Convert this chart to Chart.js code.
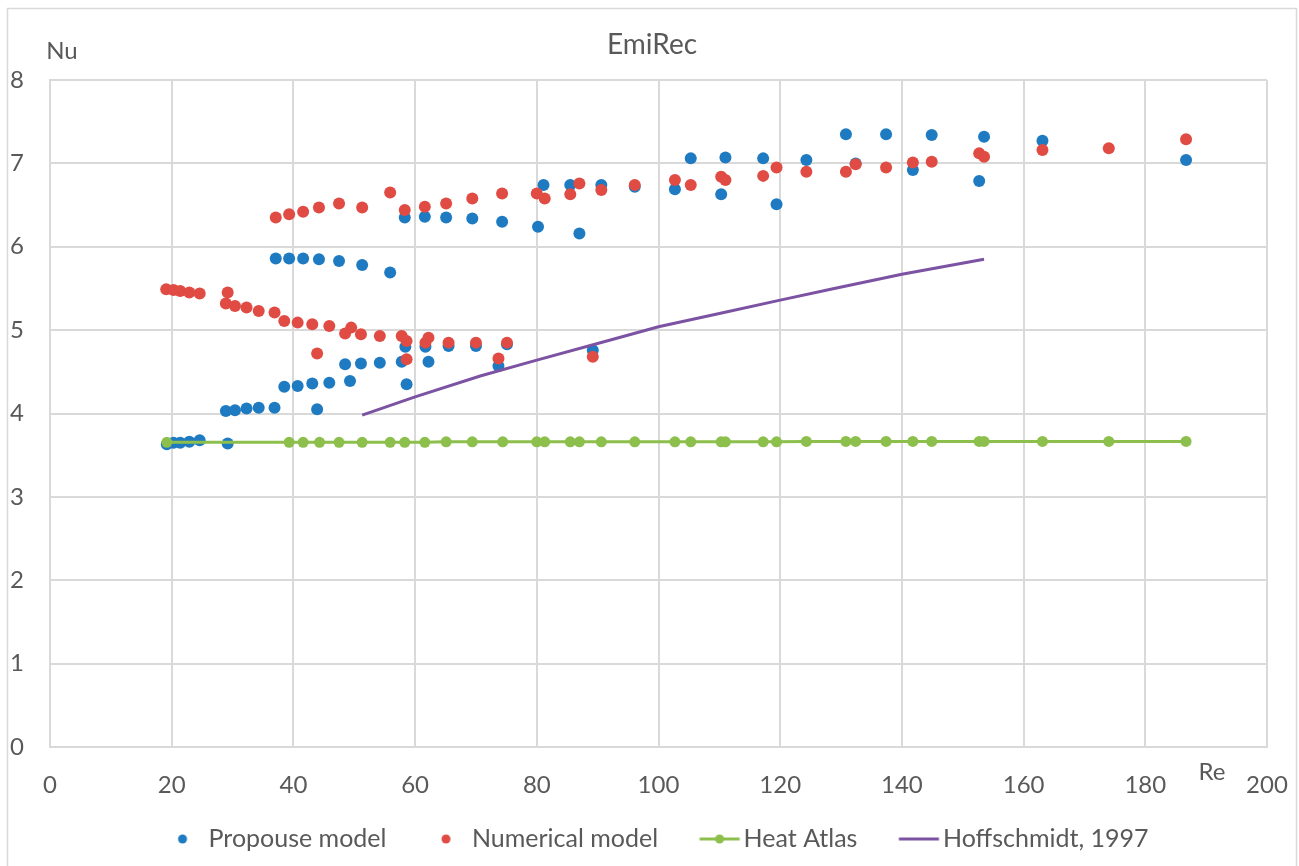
<!DOCTYPE html>
<html>
<head>
<meta charset="utf-8">
<script src="https://cdn.jsdelivr.net/npm/chart.js@4/dist/chart.umd.min.js"></script>
<style>
  html, body { margin: 0; padding: 0; background: #fff; }
  #wrap { width: 1299px; height: 866px; }
</style>
</head>
<body>
<div id="wrap"><canvas id="nuChart"></canvas></div>
<script>
// Propouse model
var propRe = [19.2, 20.3, 21.4, 22.9, 24.6, 29.2,
  28.9, 30.4, 32.3, 34.3, 36.9, 43.9,
  38.5, 40.7, 43.1, 45.9, 49.3, 58.6,
  48.5, 51.1, 54.2, 57.8, 62.2,
  58.4, 61.7, 65.5, 70.0, 75.1, 73.7, 89.2,
  37.1, 39.3, 41.6, 44.2, 47.5, 51.3, 55.9,
  58.3, 61.6, 65.1, 69.4, 74.3, 80.2, 87.0,
  81.1, 85.5, 90.6, 96.1, 102.7, 110.3, 119.4,
  105.3, 111.0, 117.2, 124.3,
  130.8, 137.4, 144.9, 153.5, 163.1, 186.7,
  132.4, 141.8, 152.7];
var propNu = [3.63, 3.65, 3.65, 3.66, 3.68, 3.64,
  4.03, 4.04, 4.06, 4.07, 4.07, 4.05,
  4.32, 4.33, 4.36, 4.37, 4.39, 4.35,
  4.59, 4.60, 4.61, 4.62, 4.62,
  4.80, 4.80, 4.81, 4.81, 4.83, 4.57, 4.76,
  5.86, 5.86, 5.86, 5.85, 5.83, 5.78, 5.69,
  6.35, 6.36, 6.35, 6.34, 6.30, 6.24, 6.16,
  6.74, 6.74, 6.74, 6.72, 6.69, 6.63, 6.51,
  7.06, 7.07, 7.06, 7.04,
  7.35, 7.35, 7.34, 7.32, 7.27, 7.04,
  7.00, 6.92, 6.79];

// Numerical model
var numRe = [19.1, 20.3, 21.4, 22.9, 24.6, 29.2,
  28.9, 30.4, 32.3, 34.3, 36.9,
  38.5, 40.7, 43.1, 45.9, 48.5, 49.5,
  51.1, 54.2, 57.8, 58.6, 61.7, 62.2, 65.5, 70.0, 75.1,
  43.9, 58.6, 73.7, 89.2,
  37.1, 39.3, 41.6, 44.2, 47.5, 51.3, 55.9,
  58.3, 61.6, 65.1, 69.4, 74.3, 80.0, 81.3,
  85.5, 87.0, 90.6, 96.1, 102.7, 105.3, 110.3, 111.0,
  117.2, 119.4, 124.3, 130.8, 132.4, 137.4, 141.8, 144.9,
  152.7, 153.5, 163.1, 174.0, 186.7];
var numNu = [5.49, 5.48, 5.47, 5.45, 5.44, 5.45,
  5.32, 5.29, 5.27, 5.23, 5.21,
  5.11, 5.09, 5.07, 5.05, 4.96, 5.03,
  4.95, 4.93, 4.93, 4.87, 4.85, 4.91, 4.85, 4.85, 4.85,
  4.72, 4.65, 4.66, 4.68,
  6.35, 6.39, 6.42, 6.47, 6.52, 6.47, 6.65,
  6.44, 6.48, 6.52, 6.58, 6.64, 6.64, 6.58,
  6.63, 6.76, 6.68, 6.74, 6.80, 6.74, 6.84, 6.80,
  6.85, 6.95, 6.90, 6.90, 6.99, 6.95, 7.01, 7.02,
  7.12, 7.08, 7.16, 7.18, 7.29];

// Heat Atlas
var atlasRe = [19.2, 39.3, 41.6, 44.3, 47.5, 51.3, 55.9, 58.3, 61.6, 65.1, 69.4, 74.4,
  80.0, 81.3, 85.5, 87.0, 90.6, 96.1, 102.7, 105.3, 110.3, 111.0, 117.2, 119.4,
  124.3, 130.8, 132.4, 137.4, 141.8, 144.9, 152.7, 153.5, 163.1, 174.0, 186.7];
var atlasNu = [3.655, 3.655, 3.655, 3.655, 3.655, 3.655, 3.655, 3.655, 3.655, 3.66, 3.66, 3.66,
  3.66, 3.66, 3.66, 3.66, 3.66, 3.66, 3.66, 3.66, 3.66, 3.66, 3.66, 3.66,
  3.665, 3.665, 3.665, 3.665, 3.665, 3.665, 3.665, 3.665, 3.665, 3.665, 3.665];

// Hoffschmidt, 1997
var hoffRe = [51.3, 60, 70.7, 80, 90, 100, 110, 120, 128.3, 140, 153.5];
var hoffNu = [3.98, 4.20, 4.45, 4.64, 4.84, 5.04, 5.20, 5.36, 5.49, 5.67, 5.85];

var xTicks = [0, 20, 40, 60, 80, 100, 120, 140, 160, 180, 200];
var yTicks = [0, 1, 2, 3, 4, 5, 6, 7, 8];

var seriesNames = ['Propouse model', 'Numerical model', 'Heat Atlas', 'Hoffschmidt, 1997'];
var seriesColors = ['#1f7bc1', '#e04b44', '#8cbf4b', '#7c52a3'];

var FONT = 'Lato';
var TXT = '#595959';
var GRID = '#d9d9d9';

function pts(xs, ys) {
  return xs.map(function (x, i) { return { x: x, y: ys[i] }; });
}

// small legend icons (dot / line / line with dot), offset inside the legend box
function legendIcon(kind, color) {
  var c = document.createElement('canvas');
  c.width = 80; c.height = 20;
  var g = c.getContext('2d');
  g.fillStyle = color;
  g.strokeStyle = color;
  if (kind === 'dot') {
    g.beginPath(); g.arc(49.25, 10, 4.5, 0, Math.PI * 2); g.fill();
  } else {
    g.lineWidth = 3;
    g.beginPath(); g.moveTo(31.25, 10); g.lineTo(71.25, 10); g.stroke();
    if (kind === 'linedot') {
      g.beginPath(); g.arc(51.25, 10, 4.5, 0, Math.PI * 2); g.fill();
    }
  }
  return c;
}
var icons = [legendIcon('dot', seriesColors[0]), legendIcon('dot', seriesColors[1]),
  legendIcon('linedot', seriesColors[2]), legendIcon('line', seriesColors[3])];

var extras = {
  id: 'extras',
  afterLayout: function (chart) {
    // shift legend row to where Excel put it
    chart.legend.left += 12;
    chart.legend.right += 12;
  },
  afterDraw: function (chart) {
    var ctx = chart.ctx;
    ctx.save();
    ctx.strokeStyle = GRID;
    ctx.lineWidth = 1.5;
    ctx.strokeRect(7.5, 8.5, 1289, 880);
    ctx.fillStyle = TXT;
    ctx.textAlign = 'center';
    ctx.textBaseline = 'middle';
    ctx.font = '28px ' + FONT;
    ctx.fillText('EmiRec', 652, 45);
    ctx.font = '24px ' + FONT;
    ctx.fillText('Nu', 62, 51);
    ctx.fillText('Re', 1212, 772);
    ctx.restore();
  }
};

var ctx = document.getElementById('nuChart').getContext('2d');
var nuChart = new Chart(ctx, {
  type: 'scatter',
  data: {
    datasets: [{
      label: seriesNames[0],
      data: pts(propRe, propNu),
      backgroundColor: seriesColors[0],
      borderWidth: 0,
      pointRadius: 6,
      order: 4
    }, {
      label: seriesNames[1],
      data: pts(numRe, numNu),
      backgroundColor: seriesColors[1],
      borderWidth: 0,
      pointRadius: 6,
      order: 3
    }, {
      label: seriesNames[2],
      data: pts(atlasRe, atlasNu),
      showLine: true,
      borderColor: seriesColors[2],
      backgroundColor: seriesColors[2],
      borderWidth: 3,
      pointRadius: 5.5,
      pointBorderWidth: 0,
      order: 2
    }, {
      label: seriesNames[3],
      data: pts(hoffRe, hoffNu),
      showLine: true,
      borderColor: seriesColors[3],
      backgroundColor: seriesColors[3],
      borderWidth: 3,
      pointRadius: 0,
      order: 1
    }]
  },
  options: {
    responsive: true,
    maintainAspectRatio: false,
    animation: false,
    layout: { padding: { top: 80, left: 8, right: 32, bottom: 4.5 } },
    plugins: {
      title: { display: false },
      tooltip: { enabled: false },
      legend: {
        position: 'bottom',
        labels: {
          usePointStyle: true,
          pointStyleWidth: 45.5,
          padding: 27.5,
          color: TXT,
          font: { family: FONT, size: 25 },
          generateLabels: function (chart) {
            return seriesNames.map(function (name, i) {
              return { text: name, pointStyle: icons[i], datasetIndex: i, fontColor: TXT, lineWidth: 0, hidden: false };
            });
          }
        }
      }
    },
    scales: {
      x: {
        type: 'linear',
        min: 0,
        max: 200,
        afterBuildTicks: function (scale) { scale.ticks = xTicks.map(function (v) { return { value: v }; }); },
        afterFit: function (scale) { scale.height = 52; scale.paddingLeft = 0; scale.paddingRight = 0; },
        grid: { color: GRID, lineWidth: 2, drawTicks: false },
        border: { color: GRID, width: 2 },
        ticks: { color: TXT, padding: 24, maxRotation: 0, font: { family: FONT, size: 24 } }
      },
      y: {
        type: 'linear',
        min: 0,
        max: 8,
        afterBuildTicks: function (scale) { scale.ticks = yTicks.map(function (v) { return { value: v }; }); },
        afterFit: function (scale) { scale.width = 42; },
        grid: { color: GRID, lineWidth: 2, drawTicks: false },
        border: { color: GRID, width: 2 },
        ticks: { color: TXT, padding: 26, font: { family: FONT, size: 24 } }
      }
    }
  },
  plugins: [extras]
});
</script>
</body>
</html>
